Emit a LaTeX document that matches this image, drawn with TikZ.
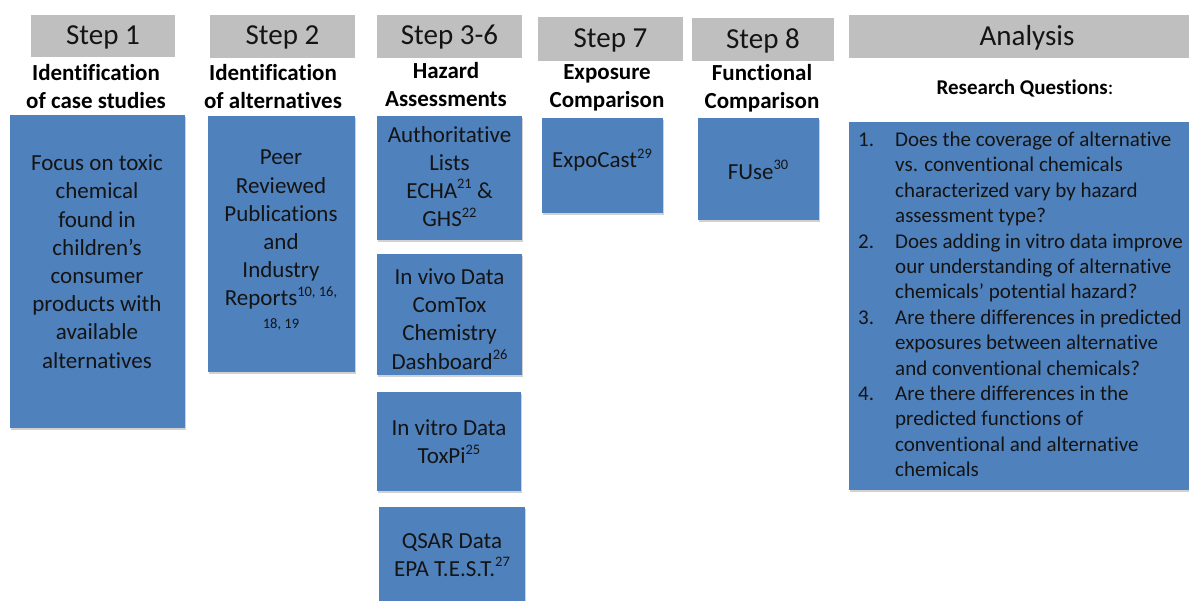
\documentclass[tikz,border=0pt]{standalone}
\usepackage{fontspec}
\setmainfont{Carlito}[Ligatures={NoCommon}]
\usetikzlibrary{shadows}
\definecolor{hdrgray}{HTML}{BFBFBF}
\definecolor{boxblue}{HTML}{4F81BD}
\definecolor{txtdark}{HTML}{141414}
\newcommand\supr[1]{\raisebox{0.42em}{\fontsize{14.5}{14.5}\selectfont #1}}
\begin{document}
\begin{tikzpicture}[x=1pt,y=-1pt,
  hdr/.style={fill=hdrgray, inner sep=0pt},
  hdrtext/.style={font=\fontsize{29}{30}\selectfont, text=txtdark, inner sep=0pt},
  bbox/.style={fill=boxblue, inner sep=0pt,
    drop shadow={shadow xshift=1.2pt, shadow yshift=-1.5pt, opacity=0.3, fill=black!60}},
  btext/.style={font=\fontsize{23}{28.2}\selectfont, align=center, text=txtdark, inner sep=0pt},
  ttl/.style={font=\fontsize{23}{28}\selectfont\bfseries, align=center, text=black, inner sep=0pt},
]
\useasboundingbox (0,0) rectangle (1189,600);

% header boxes
\node[hdr, minimum width=144pt, minimum height=42pt] (h1) at (103,36) {};
\node[hdr, minimum width=145pt, minimum height=43pt] (h2) at (282.5,36.5) {};
\node[hdr, minimum width=145pt, minimum height=43pt] (h3) at (449.5,36.5) {};
\node[hdr, minimum width=145pt, minimum height=44pt] (h7) at (610.5,39) {};
\node[hdr, minimum width=142pt, minimum height=43pt] (h8) at (763,39.5) {};
\node[hdr, minimum width=340pt, minimum height=43pt] (hA) at (1019,36.5) {};

\node[hdrtext] (s1) at (103,37) {Step 1};
\node[hdrtext] (s2) at (282.5,37.5) {Step 2};
\node[hdrtext] (s3) at (449.5,37.5) {Step 3-6};
\node[hdrtext] (s7) at (610.5,40) {Step 7};
\node[hdrtext] (s8) at (763,40.5) {Step 8};
\node[hdrtext] (sA) at (1027,37.5) {Analysis};

% titles
\node[ttl] (t1) at (96,87) {Identification\\of case studies};
\node[ttl] (t2) at (273,87) {Identification\\of alternatives};
\node[ttl] (t3) at (446,85) {Hazard\\Assessments};
\node[ttl] (t7) at (607,88) {Exposure\\Comparison};
\node[ttl] (t8) at (762,88) {Functional\\Comparison};
\node[ttl, font=\fontsize{21}{24}\selectfont] (rq) at (1025,88) {\textbf{Research Questions}:};

% blue boxes
\node[bbox, minimum width=175pt, minimum height=313pt] (b1) at (97.5,271.5) {};
\node[bbox, minimum width=147pt, minimum height=256pt] (b2) at (281.5,244) {};
\node[bbox, minimum width=145pt, minimum height=124pt] (b3) at (449.5,178) {};
\node[bbox, minimum width=145pt, minimum height=121pt] (b4) at (449.5,314.5) {};
\node[bbox, minimum width=144pt, minimum height=99pt] (b5) at (449,441.5) {};
\node[bbox, minimum width=146pt, minimum height=96pt] (b6) at (452,555) {};
\node[bbox, minimum width=121pt, minimum height=95pt] (b7) at (602.5,165.5) {};
\node[bbox, minimum width=121pt, minimum height=102pt] (b8) at (758.5,169) {};
\node[bbox, minimum width=340pt, minimum height=368pt] (bA) at (1019,306) {};

% box texts
\node[btext] (x1) at (97,261.5) {Focus on toxic\\chemical\\found in\\children’s\\consumer\\products with\\available\\alternatives};
\node[btext] (x2) at (281,240) {Peer\\Reviewed\\Publications\\and\\Industry\\Reports\supr{10, 16,}\\[-6pt]{\fontsize{14.5}{16}\selectfont 18, 19}};
\node[btext] (x3) at (449.5,176.5) {Authoritative\\Lists\\ECHA\supr{21} \&\\GHS\supr{22}};
\node[btext] (x4) at (449.5,319) {In vivo Data\\ComTox\\Chemistry\\Dashboard\supr{26}};
\node[btext] (x5) at (449,442) {In vitro Data\\ToxPi\supr{25}};
\node[btext] (x6) at (452,555) {QSAR Data\\EPA T.E.S.T.\supr{27}};
\node[btext] (x7) at (602,160) {ExpoCast\supr{29}};
\node[btext] (x8) at (758,170) {FUse\supr{30}};

\node[anchor=north west, inner sep=0pt, text=txtdark, font=\fontsize{21}{25.4}\selectfont] (xA) at (858,128.5) {%
\begin{tabular}{@{}p{37pt}@{}l@{}}
1. & Does the coverage of alternative\\
   & vs. conventional chemicals\\
   & characterized vary by hazard\\
   & assessment type?\\
2. & Does adding in vitro data improve\\
   & our understanding of alternative\\
   & chemicals’ potential hazard?\\
3. & Are there differences in predicted\\
   & exposures between alternative\\
   & and conventional chemicals?\\
4. & Are there differences in the\\
   & predicted functions of\\
   & conventional and alternative\\
   & chemicals
\end{tabular}};
\end{tikzpicture}
\end{document}
